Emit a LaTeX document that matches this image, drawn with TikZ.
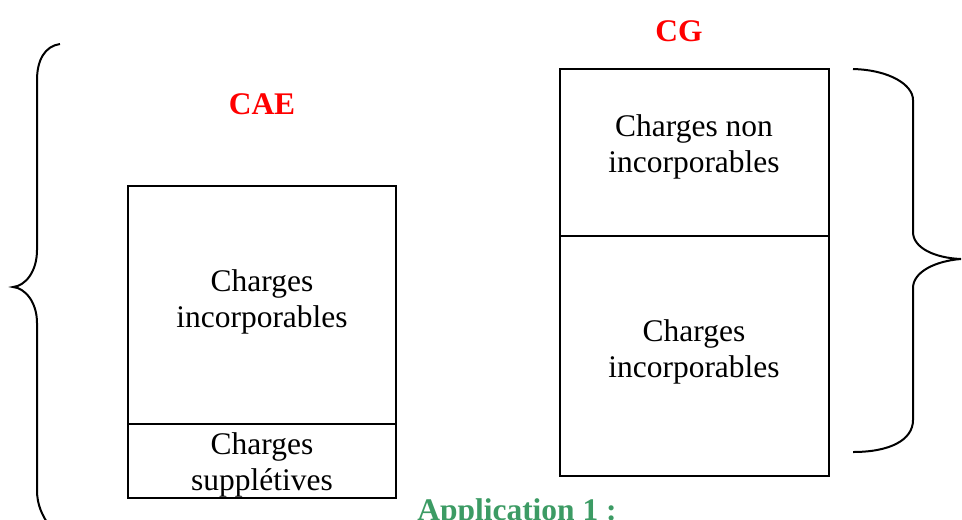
\documentclass[tikz,border=0pt]{standalone}
\usepackage{fontspec}
\setmainfont{Liberation Serif}
\definecolor{appgreen}{RGB}{60,155,100}
\begin{document}
\begin{tikzpicture}[x=0.75pt,y=-0.75pt,
  lbl/.style={inner sep=0pt,anchor=base,align=center,font=\fontsize{23.6}{27}\selectfont},
  title/.style={inner sep=0pt,anchor=base,font=\fontsize{23.6}{27}\selectfont\bfseries,text=red},
  frame/.style={line width=1.5pt},
  brace/.style={line width=1.5pt}]
\useasboundingbox (0,0) rectangle (962,519);
% left box
\draw[frame] (128,186) rectangle (396,498);
\draw[frame] (128,424) -- (396,424);
% right box
\draw[frame] (560,69) rectangle (829,476);
\draw[frame] (560,236) -- (829,236);
% titles
\node[title] (cae) at (262,114) {CAE};
\node[title] (cg) at (679,41) {CG};
% texts (anchor = baseline of last line)
\node[lbl] (inc1) at (262,327) {Charges\\incorporables};
\node[lbl] (supp) at (262,490) {Charges\\suppl\'etives};
\node[lbl] (noninc) at (694,172) {Charges non\\incorporables};
\node[lbl] (inc2) at (694,377) {Charges\\incorporables};
\node[inner sep=0pt,anchor=base,font=\fontsize{23.6}{27}\selectfont\bfseries,text=appgreen] (app) at (517,520) {Application 1 :};
% left brace
\draw[brace] (60,44) .. controls (45,46) and (37,60) .. (37,80) -- (37,250)
  .. controls (37,272) and (25,286) .. (13,287)
  .. controls (25,288) and (37,302) .. (37,323) -- (37,490)
  .. controls (37,505) and (42,515) .. (50,527);
% right brace
\draw[brace] (853,69) .. controls (890,70) and (913,85) .. (913,100) -- (913,232)
  .. controls (913,248) and (935,258) .. (961,259)
  .. controls (935,261) and (913,272) .. (913,288) -- (913,420)
  .. controls (913,440) and (890,452) .. (853,452);
\end{tikzpicture}
\end{document}
